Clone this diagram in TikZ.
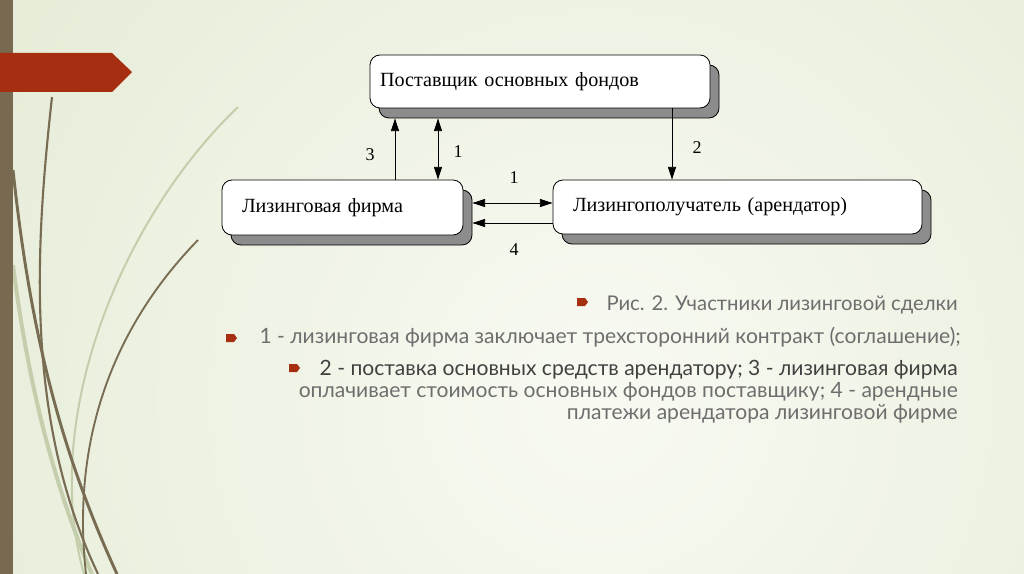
\documentclass[tikz,border=0pt]{standalone}
\usepackage{fontspec}
\setmainfont{Liberation Serif}
\newfontfamily\gothic{Lato}
\usetikzlibrary{arrows.meta,shadows,calc}
\definecolor{bgout}{RGB}{219,228,200}
\definecolor{bgin}{RGB}{248,250,242}
\definecolor{barbrown}{RGB}{119,106,80}
\definecolor{banred}{RGB}{165,47,16}
\definecolor{curvedark}{RGB}{120,108,82}
\definecolor{curvelight}{RGB}{196,206,172}
\definecolor{shadowgray}{RGB}{140,140,140}
\definecolor{txtgray}{RGB}{110,110,110}
\definecolor{txtdark}{RGB}{65,65,65}
\tikzset{
  box/.style={draw=black, line width=0.6pt, fill=white, rounded corners=7.5pt,
    align=left, font=\fontsize{15.1pt}{17pt}\selectfont,
    general shadow={fill=shadowgray, draw=black, line width=0.6pt,
      shadow xshift=6.75pt, shadow yshift=-7.5pt}},
  conn/.style={line width=0.6pt, black},
  tip/.style={-{Triangle[length=9.5pt,width=6pt]}},
  dtip/.style={{Triangle[length=9.5pt,width=6pt]}-{Triangle[length=9.5pt,width=6pt]}},
  lbl/.style={font=\fontsize{13.5pt}{15pt}\selectfont, inner sep=0pt},
  bodytext/.style={font=\gothic\fontsize{15.8pt}{18pt}\selectfont, text=txtgray, inner sep=0pt, anchor=base east},
  bul/.style={fill=banred}
}
\begin{document}
\begin{tikzpicture}[x=0.75pt,y=-0.75pt]
\useasboundingbox (0,0) rectangle (1024,574);
\begin{scope}
\clip (0,0) rectangle (1024,574);
\fill[bgout] (0,0) rectangle (1024,574);
\shade[inner color=bgin, outer color=bgout] (600,400) circle (1150);
% decorative curves
\draw[curvelight, line width=3pt] (13,265) .. controls (30,400) and (60,500) .. (92,574);
\draw[curvelight, line width=1.5pt] (238,107) .. controls (120,220) and (40,420) .. (84,574);
\draw[curvedark, line width=2.2pt] (13,170) .. controls (30,330) and (60,450) .. (117,574);
\draw[curvedark, line width=1.6pt] (52,97) .. controls (35,250) and (25,420) .. (98,574);
\draw[curvedark, line width=1.4pt] (198,240) .. controls (120,320) and (70,430) .. (86,574);
\end{scope}
\fill[barbrown] (0,0) rectangle (13,574);
\fill[banred] (0,53) -- (112,53) -- (132,72) -- (112,92) -- (0,92) -- cycle;

% boxes
\node[box, text width=240pt, inner xsep=7.5pt, minimum height=39.75pt] (sup) at (540,81.5) {Поставщик основных фондов};
\node[box, text width=150.75pt, inner xsep=15pt, minimum height=41.25pt] (lf) at (342.5,207.5) {Лизинговая фирма};
\node[box, text width=246.75pt, inner xsep=15pt, minimum height=40.5pt] (rf) at (737.5,207) {Лизингополучатель (арендатор)};

\coordinate (x3) at (395,0);
\coordinate (x1) at (438,0);
\coordinate (x2) at (672,0);
\coordinate (yh1) at (0,203);
\coordinate (yh4) at (0,223);

\draw[conn, tip] (lf.north -| x3) -- ([yshift=-7.5pt]sup.south -| x3);
\draw[conn, dtip] (lf.north -| x1) -- ([yshift=-7.5pt]sup.south -| x1);
\draw[conn, tip] (sup.south -| x2) -- (rf.north -| x2);
\draw[conn, dtip] ([xshift=6.75pt]lf.east |- yh1) -- (rf.west |- yh1);
\draw[conn, tip] (rf.west |- yh4) -- ([xshift=6.75pt]lf.east |- yh4);

\node[lbl] (l3) at (370,155) {3};
\node[lbl] (l1a) at (458,152) {1};
\node[lbl] (l2) at (697,148) {2};
\node[lbl] (l1b) at (514,178) {1};
\node[lbl] (l4) at (514,250) {4};

% bullets and text
\fill[bul] (577,298) -- (585,298) -- (588,302) -- (585,306) -- (577,306) -- cycle;
\fill[bul] (226,334) -- (234,334) -- (237,338) -- (234,342) -- (226,342) -- cycle;
\fill[bul] (289,364) -- (297,364) -- (300,368) -- (297,372) -- (289,372) -- cycle;
\node[bodytext, font=\gothic\fontsize{15.2pt}{18pt}\selectfont] (t1) at (958,310) {Рис. 2. Участники лизинговой сделки};
\node[bodytext] (t2) at (961,343) {1 - лизинговая фирма заключает трехсторонний контракт (соглашение);};
\node[bodytext, text=txtdark] (t3) at (958,375) {2 - поставка основных средств арендатору; 3 - лизинговая фирма};
\node[bodytext] (t4) at (958,397) {оплачивает стоимость основных фондов поставщику; 4 - арендные};
\node[bodytext] (t5) at (958,419) {платежи арендатора лизинговой фирме};
\end{tikzpicture}
\end{document}
